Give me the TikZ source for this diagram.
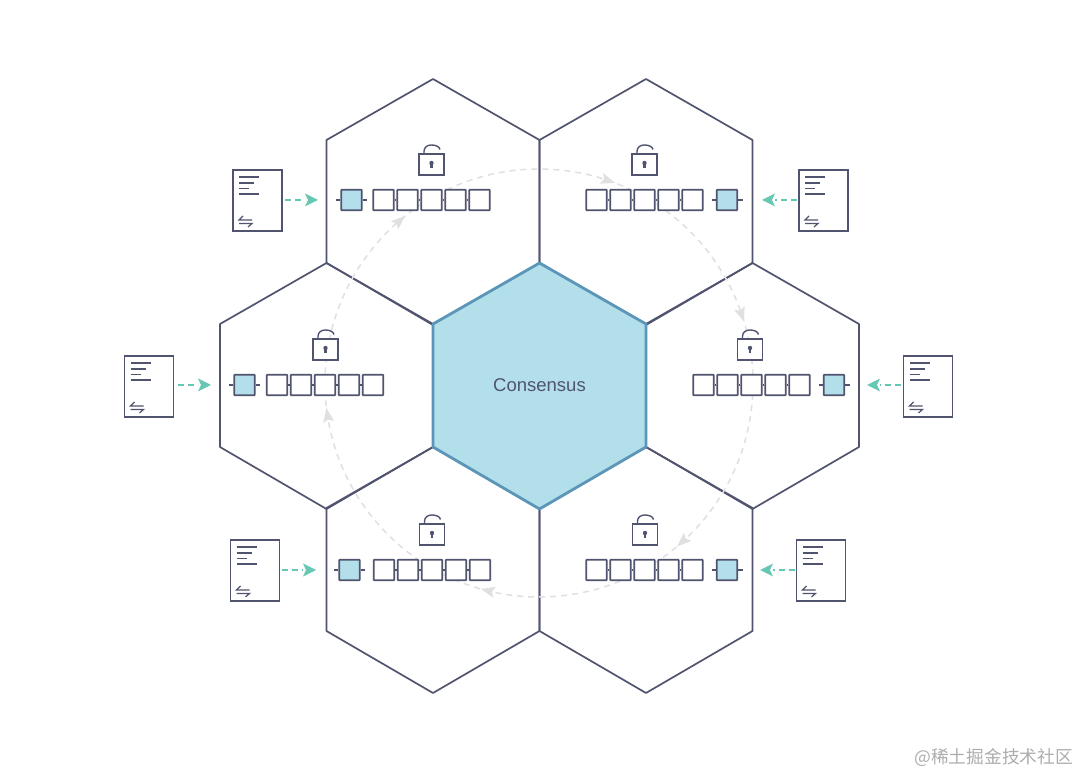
\documentclass[tikz,border=0pt]{standalone}
\usepackage{fontspec}
\setmainfont{Liberation Sans}
\newfontfamily\cjkwm{Noto Sans CJK SC}
\usetikzlibrary{calc}
\definecolor{ink}{HTML}{50546F}
\definecolor{hubfill}{HTML}{B3DFEB}
\definecolor{hubline}{HTML}{5B95B8}
\definecolor{teal}{HTML}{66C7B2}
\definecolor{ringgray}{HTML}{E0E0E3}
\tikzset{
  x=1pt,y=-1pt,
  hexline/.style={draw=ink,line width=1.7pt,line join=round},
  hubhex/.style={draw=hubline,fill=hubfill,line width=2.8pt,line join=round},
  block/.style={draw=ink,fill=white,line width=1.7pt,minimum size=20.5pt,inner sep=0pt,rounded corners=0.5pt},
  headblock/.style={block,fill=hubfill},
  link/.style={draw=ink,line width=1.6pt},
  lockbody/.style={draw=ink,fill=white,line width=1.7pt},
  docbox/.style={draw=ink,fill=white,line width=1.6pt,minimum width=49pt,minimum height=60.5pt,inner sep=0pt},
  docline/.style={draw=ink,line width=1.2pt},
  feed/.style={draw=teal,line width=1.3pt,dash pattern=on 6pt off 4pt},
  feedhead/.style={fill=teal},
  ring/.style={draw=ringgray,line width=1.5pt,dash pattern=on 6pt off 5pt},
  ringhead/.style={fill=ringgray},
}
% hexagon by centre
\newcommand{\hexat}[3]{\path[#1] (#2,#3-123) -- (#2+106.5,#3-62) -- (#2+106.5,#3+61) -- (#2,#3+123) -- (#2-106.5,#3+61) -- (#2-106.5,#3-62) -- cycle;}
% lock: centre x, top of body y
\newcommand{\lockat}[2]{%
  \path[draw=ink,line width=1.4pt] (#1-7.5,#2) -- (#1-7.5,#2-2.5) .. controls (#1-7.5,#2-7) and (#1-4,#2-9) .. (#1,#2-9) .. controls (#1+4,#2-9) and (#1+8,#2-7.5) .. (#1+8.5,#2-4.5);
  \path[lockbody] (#1-12.5,#2) rectangle (#1+12.5,#2+21);
  \fill[ink] (#1,#2+9) circle (2.2pt);
  \fill[ink] (#1-1.2,#2+9) rectangle (#1+1.2,#2+14);
}
% chain of five white blocks: prefix, first x, y
\newcommand{\chainat}[3]{%
  \node[block] (#1w1) at (#2,#3) {};
  \node[block] (#1w2) at (#2+24,#3) {};
  \node[block] (#1w3) at (#2+48,#3) {};
  \node[block] (#1w4) at (#2+72,#3) {};
  \node[block] (#1w5) at (#2+96,#3) {};
  \draw[link] (#1w1) -- (#1w2);
  \draw[link] (#1w2) -- (#1w3);
  \draw[link] (#1w3) -- (#1w4);
  \draw[link] (#1w4) -- (#1w5);
}
% head block with stubs: prefix, x, y
\newcommand{\headat}[3]{%
  \node[headblock] (#1h) at (#2,#3) {};
  \coordinate (#1hl) at (#2-15.5,#3);
  \coordinate (#1hr) at (#2+15.5,#3);
  \draw[link] (#1hl) -- (#1h);
  \draw[link] (#1h) -- (#1hr);
}
% document icon: prefix, left x, top y
\newcommand{\docat}[3]{%
  \node[docbox] (#1d) at (#2+24.5,#3+30.5) {};
  \draw[docline] (#2+6,#3+7) -- (#2+26,#3+7);
  \draw[docline] (#2+6,#3+13) -- (#2+21,#3+13);
  \draw[docline] (#2+6,#3+18.5) -- (#2+16,#3+18.5);
  \draw[docline] (#2+6,#3+24) -- (#2+26,#3+24);
  \draw[docline] (#2+10,#3+46) -- (#2+6,#3+50) -- (#2+19,#3+50);
  \draw[docline] (#2+6,#3+53.5) -- (#2+19,#3+53.5) -- (#2+15,#3+57);
}
% feed arrow: prefix, from x, to x, y (direction from the sign)
\newcommand{\feedat}[4]{%
  \coordinate (#1a) at (#2,#4);
  \coordinate (#1b) at (#3,#4);
  \pgfmathsetmacro{\dirn}{(#3>#2)?1:-1}
  \draw[feed] (#1a) -- (#3-\dirn*13,#4);
  \fill[feedhead] (#1b) -- (#3-\dirn*13,#4-6.5) -- (#3-\dirn*10,#4) -- (#3-\dirn*13,#4+6.5) -- cycle;
}
% ring arrowhead at angle
\newcommand{\ringhead}[1]{%
  \pgfmathsetmacro{\aa}{#1+2.8}
  \pgfmathsetmacro{\ab}{#1-0.3}
  \pgfmathsetmacro{\ac}{#1-1}
  \fill[ringhead] ([shift={(539,383)}]\aa:214) -- ([shift={(539,383)}]\ac:219.5) -- ([shift={(539,383)}]\ab:214) -- ([shift={(539,383)}]\ac:208.5) -- cycle;
}
\begin{document}
\begin{tikzpicture}
\useasboundingbox (0,0) rectangle (1080,775);
\fill[white] (0,0) rectangle (1080,775);
% hexagons
\hexat{hexline}{433}{202}
\hexat{hexline}{646}{202}
\hexat{hexline}{326.5}{386}
\hexat{hexline}{752.5}{386}
\hexat{hexline}{433}{570}
\hexat{hexline}{646}{570}
\hexat{hubhex}{539.5}{386}
\node[inner sep=0pt,text=ink,font=\fontsize{18.5}{20}\selectfont] (hub) at (539.5,385) {Consensus};
% ring
\draw[ring] (539,383) circle (214);
\ringhead{-72}
\ringhead{-19.5}
\ringhead{47}
\ringhead{103}
\ringhead{170.5}
\ringhead{228.5}
% top left
\lockat{431.5}{154}
\headat{tl}{351.5}{200}
\chainat{tl}{383.5}{200}
\docat{tl}{233}{170}
\feedat{tl}{285}{318}{200}
% top right
\lockat{644.5}{154}
\chainat{tr}{596.5}{200}
\headat{tr}{727}{200}
\docat{tr}{799}{170}
\feedat{tr}{797}{762}{200}
% left
\lockat{325.5}{339}
\headat{l}{244.5}{385}
\chainat{l}{277}{385}
\docat{l}{124.5}{356}
\feedat{l}{178}{211}{385}
% right
\lockat{750}{339}
\chainat{r}{703.5}{385}
\headat{r}{834}{385}
\docat{r}{903.5}{356}
\feedat{r}{901}{867}{385}
% bottom left
\lockat{432}{524}
\headat{bl}{349.5}{570}
\chainat{bl}{384}{570}
\docat{bl}{230.5}{540}
\feedat{bl}{282}{316}{570}
% bottom right
\lockat{645}{524}
\chainat{br}{596.5}{570}
\headat{br}{727}{570}
\docat{br}{796.5}{540}
\feedat{br}{795}{760}{570}
% watermark
\node[inner sep=0pt,text=black!32,font=\cjkwm\fontsize{17.7}{20}\selectfont,anchor=east] (wm) at (1073,758) {@稀土掘金技术社区};
\end{tikzpicture}
\end{document}
